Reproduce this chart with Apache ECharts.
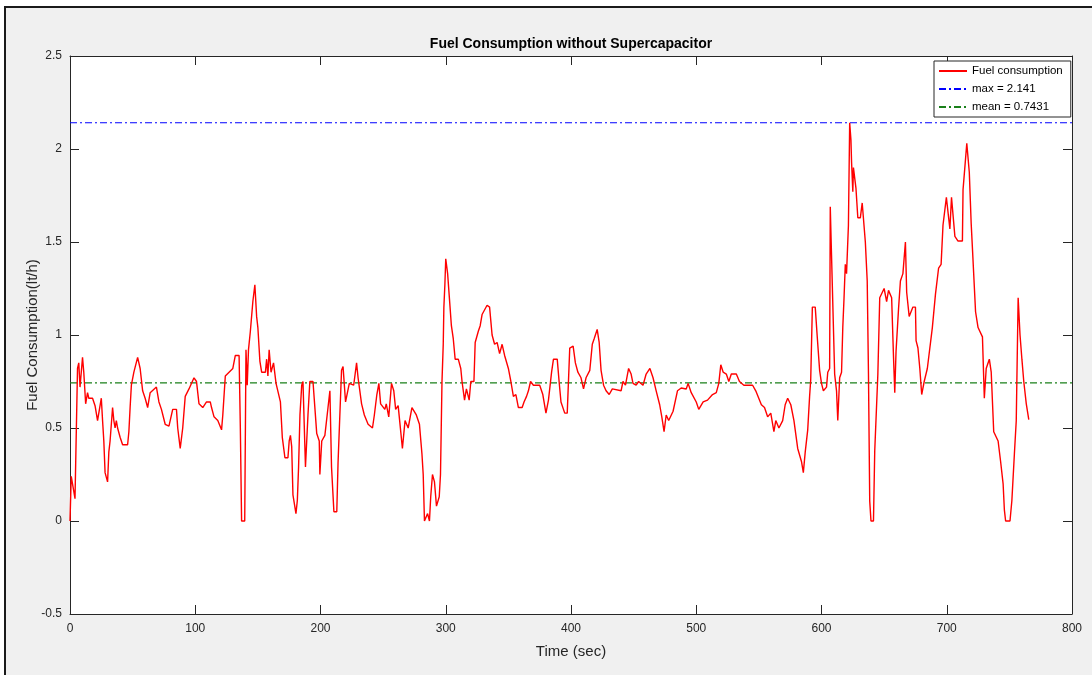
<!DOCTYPE html>
<html>
<head>
<meta charset="utf-8">
<title>Fuel Consumption without Supercapacitor</title>
<script src="https://cdn.jsdelivr.net/npm/echarts@6/dist/echarts.min.js"></script>
<style>
  html, body { margin: 0; padding: 0; background: #fff; }
  #frame {
    position: absolute; left: 4px; top: 6px; width: 1088px; height: 669px;
    background: #f0f0f0; border-left: 2px solid #1a1a1a; border-top: 2px solid #1a1a1a;
  }
  #chart { position: absolute; left: 0; top: 0; width: 1092px; height: 675px; }
</style>
</head>
<body>
<div id="frame"></div>
<div id="chart"></div>
<script>
// time (sec)
const timeSec = [
  0, 1, 2, 3, 4, 5, 6, 7, 8, 9, 10, 11, 12.5, 14, 15, 18, 20, 22, 25, 26,
  27, 28, 30, 31, 32, 34, 35, 36, 37, 38, 40, 42, 46, 47, 48, 49, 51, 54, 56, 58,
  60, 62, 64, 69, 71, 73, 76, 79, 82, 85, 86, 88, 90, 92, 95, 99, 101, 103, 106, 109,
  112, 113, 115, 118, 121, 122, 124, 127, 130, 132, 135, 136, 137, 139.5, 140.5, 141.5, 142.5, 144, 146, 147.6,
  149, 150, 151.6, 153, 156, 157, 158, 159, 160.5, 162.5, 164.5, 166, 168, 169.5, 171.6, 174, 175, 176, 177, 178,
  180.4, 181.5, 182.5, 183.6, 185, 186, 187, 188, 190, 191.5, 194, 197, 199, 199.5, 201, 203.5, 206, 207.5, 208.8, 210.7,
  213, 214, 216.8, 218, 220, 223, 226.5, 228.8, 230, 232.8, 235, 238, 241.5, 243, 245, 246.6, 248, 251.4, 252.5, 254.5,
  256.7, 258.5, 260, 262, 263.5, 265.4, 267.5, 270, 273, 276.5, 279, 281, 282, 283, 285.5, 287, 288, 289.4, 291, 292.6,
  294.8, 295.8, 297, 298, 298.5, 299.3, 300, 301.5, 303, 304.5, 306, 307.5, 310, 312, 313, 315, 316.5, 318.7, 320, 322.5,
  323.5, 326, 327.5, 329, 333, 335, 337, 339, 341, 343, 345, 347, 350, 352, 354, 356, 358, 361, 362.5, 364.5,
  366, 367.7, 370, 375, 377.5, 380, 382, 384.5, 386, 389, 390.5, 392, 395, 397, 399, 401.7, 403.5, 405.5, 408, 410,
  412, 415, 417, 418.5, 420.9, 422.5, 424, 426, 428, 430.5, 433, 440, 441.5, 443.5, 446, 448, 449.5, 452, 454, 457.5,
  460, 463, 465.5, 468, 470.8, 472.5, 474.3, 476, 478, 481.5, 485, 488, 492, 493.5, 496, 500, 502, 505.5, 509, 513,
  516, 518, 519.6, 521.5, 524, 526, 528, 532, 534.5, 538, 545, 547.5, 552, 554.5, 557, 559.5, 562, 563.5, 566, 569,
  571, 573, 575.5, 578, 581, 584, 585.5, 587, 589, 590.5, 591.4, 592.7, 595, 596.5, 598.5, 600, 601.5, 604, 605, 606.5,
  607, 608, 610.5, 612, 613, 614.5, 616, 617, 618, 619, 620, 621.5, 622.5, 623.5, 624, 625, 625.5, 627.5, 629, 631,
  632.5, 634, 635, 636.5, 637.5, 638.5, 639.5, 641.5, 642.5, 645, 646.5, 650, 652, 653.5, 656, 657.5, 658.5, 659.5, 661.5, 663,
  665, 667, 668, 670, 673, 675, 675.5, 677, 678.5, 680, 682, 684.5, 688.5, 691, 693.5, 695.5, 697, 699.7, 702.5, 703.8,
  706.5, 709, 712.5, 713, 716, 718, 719.5, 720.7, 723, 725, 728.5, 730, 731.5, 734, 735.5, 737.5, 741, 743, 745, 746,
  747, 750.5, 752, 754, 755.5, 757, 758.5, 760, 761.5, 763.5, 765.5
];

// fuel consumption (lt/h) at those times
const fuelValues = [
  0, 0.24, 0.24, 0.16, 0.12, 0.12, 0.82, 0.85, 0.72, 0.80, 0.88, 0.80, 0.63, 0.69, 0.66, 0.66, 0.62, 0.54, 0.66, 0.54,
  0.43, 0.26, 0.21, 0.37, 0.43, 0.61, 0.54, 0.50, 0.54, 0.50, 0.45, 0.41, 0.41, 0.48, 0.61, 0.73, 0.80, 0.88, 0.82, 0.70,
  0.66, 0.61, 0.69, 0.72, 0.64, 0.60, 0.52, 0.51, 0.60, 0.60, 0.50, 0.39, 0.50, 0.67, 0.71, 0.77, 0.75, 0.63, 0.61, 0.64,
  0.64, 0.61, 0.56, 0.54, 0.49, 0.57, 0.78, 0.80, 0.82, 0.89, 0.89, 0.50, 0, 0, 0.92, 0.73, 0.92, 1.02, 1.18, 1.27,
  1.10, 1.04, 0.86, 0.80, 0.80, 0.87, 0.78, 0.92, 0.80, 0.85, 0.74, 0.74, 0.64, 0.45, 0.34, 0.34, 0.43, 0.46, 0.40, 0.14,
  0.04, 0.11, 0.29, 0.57, 0.73, 0.75, 0.75, 0.29, 0.57, 0.75, 0.75, 0.47, 0.43, 0.25, 0.43, 0.46, 0.61, 0.70, 0.29, 0.05,
  0.05, 0.31, 0.81, 0.83, 0.64, 0.74, 0.73, 0.85, 0.77, 0.63, 0.57, 0.52, 0.50, 0.57, 0.68, 0.74, 0.63, 0.60, 0.63, 0.56,
  0.74, 0.70, 0.60, 0.62, 0.61, 0.39, 0.54, 0.50, 0.61, 0.57, 0.52, 0.36, 0.25, 0, 0.04, 0, 0.13, 0.25, 0.21, 0.08,
  0.13, 0.25, 0.75, 0.95, 1.15, 1.27, 1.41, 1.33, 1.19, 1.05, 0.98, 0.87, 0.87, 0.82, 0.75, 0.65, 0.71, 0.65, 0.75, 0.75,
  0.96, 1.02, 1.05, 1.11, 1.16, 1.15, 1.00, 0.95, 0.96, 0.90, 0.95, 0.89, 0.82, 0.75, 0.67, 0.68, 0.61, 0.61, 0.64, 0.67,
  0.70, 0.75, 0.73, 0.73, 0.68, 0.58, 0.65, 0.80, 0.87, 0.87, 0.75, 0.64, 0.58, 0.58, 0.93, 0.94, 0.85, 0.80, 0.77, 0.71,
  0.77, 0.81, 0.95, 0.98, 1.03, 0.96, 0.81, 0.73, 0.70, 0.68, 0.71, 0.70, 0.75, 0.73, 0.82, 0.79, 0.74, 0.73, 0.75, 0.73,
  0.79, 0.82, 0.77, 0.70, 0.625, 0.56, 0.48, 0.57, 0.54, 0.59, 0.70, 0.715, 0.71, 0.74, 0.69, 0.64, 0.60, 0.64, 0.65, 0.68,
  0.69, 0.74, 0.84, 0.80, 0.79, 0.75, 0.79, 0.79, 0.75, 0.73, 0.73, 0.70, 0.625, 0.61, 0.56, 0.58, 0.48, 0.54, 0.50, 0.54,
  0.625, 0.66, 0.625, 0.54, 0.39, 0.32, 0.26, 0.37, 0.49, 0.67, 0.76, 1.15, 1.15, 1.00, 0.81, 0.74, 0.70, 0.72, 0.80, 0.82,
  1.69, 1.43, 0.79, 0.70, 0.54, 0.77, 0.80, 1.04, 1.20, 1.38, 1.33, 1.59, 2.141, 2.05, 1.93, 1.77, 1.90, 1.79, 1.63, 1.63,
  1.71, 1.71, 1.50, 1.29, 0.79, 0.107, 0, 0, 0.375, 0.79, 1.20, 1.25, 1.18, 1.24, 1.20, 0.88, 0.69, 0.91, 1.14, 1.29,
  1.33, 1.50, 1.23, 1.10, 1.15, 1.15, 0.97, 0.93, 0.82, 0.68, 0.75, 0.82, 1.04, 1.22, 1.36, 1.38, 1.59, 1.74, 1.57, 1.74,
  1.53, 1.505, 1.505, 1.78, 2.03, 1.875, 1.60, 1.44, 1.125, 1.04, 0.99, 0.66, 0.82, 0.87, 0.80, 0.48, 0.43, 0.32, 0.20, 0.06,
  0, 0, 0.11, 0.36, 0.54, 1.20, 1.00, 0.87, 0.75, 0.63, 0.545
];

const maxValue = 2.141;
const meanValue = 0.7431;
const xTicks = [0, 800, 100];      // min, max, interval
const yTicks = [-0.5, 2.5, 0.5];

const axisColor = '#262626';
const fontFamily = '"Liberation Sans", Arial, Helvetica, sans-serif';

const chart = echarts.init(document.getElementById('chart'), null, { renderer: 'canvas' });

const fuelData = timeSec.map((t, i) => [t, fuelValues[i]]);

const boxAxis = (extra) => Object.assign({
  type: 'value',
  axisLine: { show: true, onZero: false, lineStyle: { color: axisColor, width: 1 } },
  axisTick: { show: true, inside: true, length: 9, lineStyle: { color: axisColor, width: 1 } },
  splitLine: { show: false },
}, extra);

const option = {
  backgroundColor: 'transparent',
  animation: false,
  title: {
    text: 'Fuel Consumption without Supercapacitor',
    left: 566,
    top: 32,
    textAlign: 'center',
    textStyle: { fontFamily, fontSize: 14, fontWeight: 'bold', color: '#000' },
  },
  legend: {
    orient: 'vertical',
    left: 934,
    top: 61,
    padding: [4, 8, 4, 4],
    itemGap: 6,
    itemWidth: 28,
    itemHeight: 12,
    icon: 'inherit',
    itemStyle: { opacity: 0 },
    backgroundColor: '#fff',
    borderColor: axisColor,
    borderWidth: 1,
    borderRadius: 0,
    textStyle: { fontFamily, fontSize: 11.5, color: '#000' },
    data: ['Fuel consumption', 'max = 2.141', 'mean = 0.7431'],
  },
  grid: { left: 70, right: 20, top: 56, bottom: 61, show: true, backgroundColor: '#fff', borderWidth: 0 },
  xAxis: [
    boxAxis({
      min: xTicks[0], max: xTicks[1], interval: xTicks[2],
      position: 'bottom',
      name: 'Time (sec)',
      nameLocation: 'middle',
      nameGap: 30,
      nameTextStyle: { fontFamily, fontSize: 15, color: axisColor },
      axisLabel: { fontFamily, fontSize: 12, color: axisColor, margin: 9 },
    }),
    boxAxis({
      min: xTicks[0], max: xTicks[1], interval: xTicks[2],
      position: 'top',
      axisLabel: { show: false },
    }),
  ],
  yAxis: [
    boxAxis({
      min: yTicks[0], max: yTicks[1], interval: yTicks[2],
      position: 'left',
      name: 'Fuel Consumption(lt/h)',
      nameLocation: 'middle',
      nameGap: 30,
      nameMoveOverlap: false,
      nameTextStyle: { fontFamily, fontSize: 15, color: axisColor },
      axisLabel: { fontFamily, fontSize: 12, color: axisColor, margin: 8 },
    }),
    boxAxis({
      min: yTicks[0], max: yTicks[1], interval: yTicks[2],
      position: 'right',
      axisLabel: { show: false },
    }),
  ],
  series: [
    {
      name: 'Fuel consumption',
      type: 'line',
      data: fuelData,
      symbol: 'none',
      color: '#ff0000',
      lineStyle: { color: '#ff0000', width: 1.4 },
      z: 3,
    },
    {
      name: 'max = 2.141',
      type: 'line',
      data: [[xTicks[0], maxValue], [xTicks[1], maxValue]],
      symbol: 'none',
      color: '#0000ff',
      lineStyle: { color: '#0000ff', width: 1.2, type: [7, 3, 2, 3] },
      z: 2,
    },
    {
      name: 'mean = 0.7431',
      type: 'line',
      data: [[xTicks[0], meanValue], [xTicks[1], meanValue]],
      symbol: 'none',
      color: '#1a801a',
      lineStyle: { color: '#1a801a', width: 1.2, type: [7, 3, 2, 3] },
      z: 2,
    },
  ],
};

chart.setOption(option);
</script>
</body>
</html>
